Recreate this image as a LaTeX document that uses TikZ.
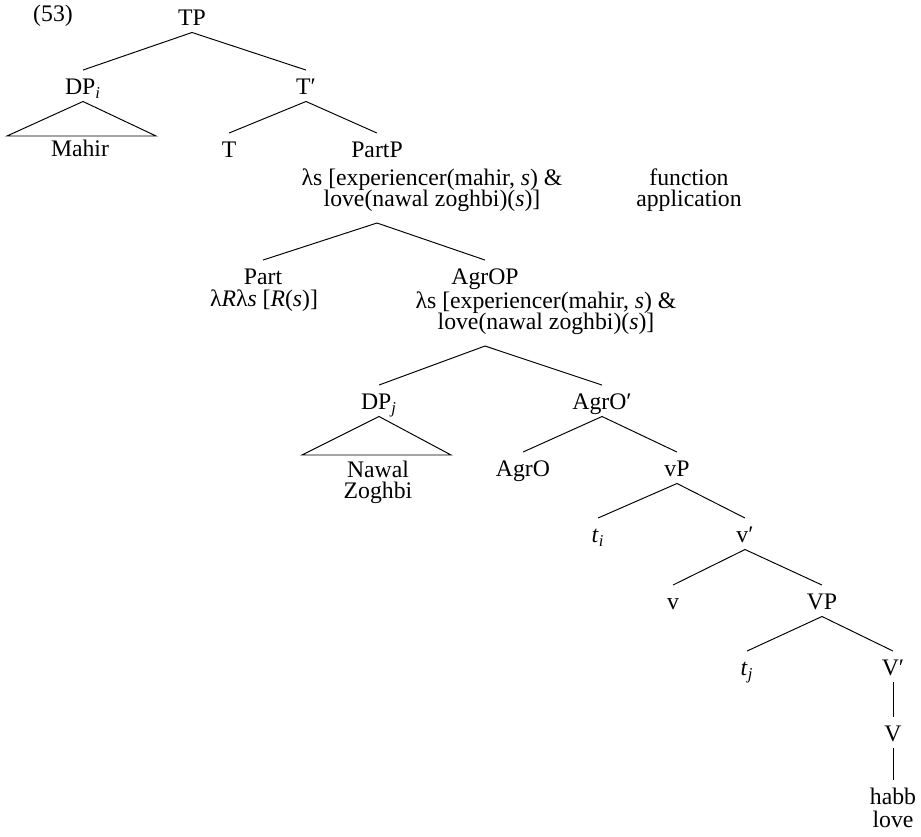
\documentclass[tikz,border=0pt]{standalone}
\usepackage{fontspec}
\setmainfont{Liberation Serif}
\begin{document}
\begin{tikzpicture}[
    x=0.02cm, y=-0.02cm,
    lab/.style={
        anchor=base,
        inner sep=0pt,
        text height=14pt,
        text depth=3.5pt,
        font=\fontsize{13.5}{13}\selectfont
    },
    sem/.style={
        anchor=base,
        align=center,
        inner xsep=0pt,
        inner ysep=6pt,
        font=\fontsize{13.5}{12.5}\selectfont
    },
    leaf/.style={sem, inner sep=0pt},
    br/.style={draw=black, line width=0.55pt}
]
    \useasboundingbox (0,0) rectangle (921,837);

    \node[leaf] (ex) at (53,22) {(53)};
    \node[lab] (TP) at (192,26) {TP};
    \node[lab] (DPi) at (83,95) {DP\textsubscript{\textit{i}}};
    \node[lab] (Tbar) at (306,95) {T′};
    \node[leaf] (mahir) at (80,157) {Mahir};
    \node[lab] (T) at (229,158) {T};
    \node[lab] (PartP) at (377,158) {PartP};
    \node[sem] (PartPsem) at (432,207) {λs [experiencer(mahir, \textit{s}) \&\\love(nawal zoghbi)(\textit{s})]};
    \node[leaf] (fa) at (689,207) {function\\application};

    \node[lab] (Part) at (263,285) {Part};
    \node[sem] (Partsem) at (264,307) {λ\textit{R}λ\textit{s} [\textit{R}(\textit{s})]};
    \node[lab] (AgrOP) at (485,285) {AgrOP};
    \node[sem] (AgrOPsem) at (546,330) {λs [experiencer(mahir, \textit{s}) \&\\love(nawal zoghbi)(\textit{s})]};

    \node[lab] (DPj) at (379,410) {DP\textsubscript{\textit{j}}};
    \node[leaf] (nawal) at (378,499) {Nawal\\Zoghbi};
    \node[lab] (AgrObar) at (602,410) {AgrO′};
    \node[lab] (AgrO) at (523,477) {AgrO};
    \node[lab] (vP) at (677,477) {vP};
    \node[lab] (ti) at (598,543) {\textit{t}\textsubscript{\textit{i}}};
    \node[lab] (vbar) at (745,543) {v′};
    \node[lab] (v) at (673,610) {v};
    \node[lab] (VP) at (822,610) {VP};
    \node[lab] (tj) at (747,676) {\textit{t}\textsubscript{\textit{j}}};
    \node[lab] (Vbar) at (893,676) {V′};
    \node[lab] (V) at (893,742) {V};
    \node[lab] (habb) at (893,805) {habb};
    \node[leaf] (love) at (893,828) {love};

    % triangle corners
    \coordinate (mahirL) at (7,136);
    \coordinate (mahirR) at (156,136);
    \coordinate (nawalL) at (302,455);
    \coordinate (nawalR) at (451,455);

    \draw[br] (TP.south) -- (DPi.north);
    \draw[br] (TP.south) -- (Tbar.north);
    \draw[br] (DPi.south) -- (mahirL) -- (mahirR) -- cycle;
    \draw[br] (Tbar.south) -- (T.north);
    \draw[br] (Tbar.south) -- (PartP.north);
    \draw[br] (PartP |- PartPsem.south) -- (Part.north);
    \draw[br] (PartP |- PartPsem.south) -- (AgrOP.north);
    \draw[br] (AgrOP |- AgrOPsem.south) -- (DPj.north);
    \draw[br] (AgrOP |- AgrOPsem.south) -- (AgrObar.north);
    \draw[br] (DPj.south) -- (nawalL) -- (nawalR) -- cycle;
    \draw[br] (AgrObar.south) -- (AgrO.north);
    \draw[br] (AgrObar.south) -- (vP.north);
    \draw[br] (vP.south) -- (ti.north);
    \draw[br] (vP.south) -- (vbar.north);
    \draw[br] (vbar.south) -- (v.north);
    \draw[br] (vbar.south) -- (VP.north);
    \draw[br] (VP.south) -- (tj.north);
    \draw[br] (VP.south) -- (Vbar.north);
    \draw[br] (Vbar.south) -- (V.north);
    \draw[br] (V.south) -- (habb.north);
\end{tikzpicture}
\end{document}
